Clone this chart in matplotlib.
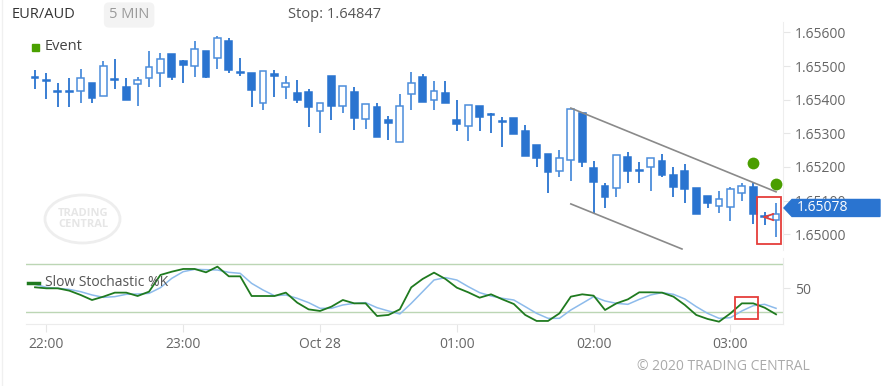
import numpy as np
import pandas as pd
import matplotlib
matplotlib.use("Agg")
import matplotlib.pyplot as plt
import matplotlib.transforms as mtransforms
from matplotlib.patches import Rectangle, Ellipse, Polygon

plt.rcParams['font.family'] = ['Open Sans', 'DejaVu Sans']

# EUR/AUD 5 min candles, 21:55 -> 03:20
opens = [1.65467, 1.65458, 1.65426, 1.65426, 1.65426, 1.65449, 1.65411, 1.65461, 1.65438, 1.65446,
         1.65464, 1.65479, 1.65536, 1.65515, 1.65500, 1.65544, 1.65524, 1.65574, 1.65482, 1.65479,
         1.65390, 1.65476, 1.65438, 1.65420, 1.65423, 1.65366, 1.65470, 1.65381, 1.65423, 1.65343,
         1.65378, 1.65340, 1.65274, 1.65417, 1.65467, 1.65399, 1.65420, 1.65340, 1.65322, 1.65381,
         1.65358, 1.65337, 1.65345, 1.65307, 1.65265, 1.65239, 1.65188, 1.65221, 1.65360, 1.65197,
         1.65144, 1.65138, 1.65230, 1.65191, 1.65200, 1.65218, 1.65176, 1.65188, 1.65138, 1.65114,
         1.65084, 1.65081, 1.65123, 1.65141, 1.65054, 1.65042]
highs = [1.65488, 1.65479, 1.65449, 1.65464, 1.65491, 1.65449, 1.65515, 1.65521, 1.65464, 1.65467,
         1.65544, 1.65538, 1.65536, 1.65517, 1.65574, 1.65546, 1.65589, 1.65583, 1.65524, 1.65479,
         1.65485, 1.65488, 1.65470, 1.65458, 1.65432, 1.65390, 1.65470, 1.65440, 1.65438, 1.65387,
         1.65390, 1.65351, 1.65417, 1.65482, 1.65476, 1.65455, 1.65455, 1.65399, 1.65384, 1.65381,
         1.65360, 1.65348, 1.65345, 1.65325, 1.65265, 1.65239, 1.65250, 1.65372, 1.65360, 1.65218,
         1.65152, 1.65236, 1.65244, 1.65215, 1.65227, 1.65239, 1.65200, 1.65209, 1.65138, 1.65114,
         1.65129, 1.65141, 1.65152, 1.65152, 1.65066, 1.65093]
lows = [1.65432, 1.65402, 1.65378, 1.65378, 1.65390, 1.65390, 1.65411, 1.65432, 1.65399, 1.65381,
        1.65438, 1.65438, 1.65458, 1.65449, 1.65467, 1.65465, 1.65491, 1.65479, 1.65470, 1.65378,
        1.65369, 1.65408, 1.65402, 1.65390, 1.65319, 1.65301, 1.65340, 1.65360, 1.65310, 1.65313,
        1.65289, 1.65280, 1.65274, 1.65369, 1.65393, 1.65369, 1.65390, 1.65307, 1.65277, 1.65307,
        1.65301, 1.65259, 1.65298, 1.65233, 1.65200, 1.65123, 1.65170, 1.65158, 1.65200, 1.65063,
        1.65078, 1.65111, 1.65152, 1.65152, 1.65129, 1.65170, 1.65111, 1.65093, 1.65060, 1.65078,
        1.65063, 1.65040, 1.65099, 1.65031, 1.65028, 1.64992]
closes = [1.65464, 1.65455, 1.65423, 1.65423, 1.65464, 1.65405, 1.65500, 1.65458, 1.65399, 1.65458,
          1.65497, 1.65521, 1.65467, 1.65503, 1.65550, 1.65467, 1.65583, 1.65488, 1.65479, 1.65429,
          1.65485, 1.65470, 1.65449, 1.65399, 1.65378, 1.65390, 1.65381, 1.65440, 1.65345, 1.65387,
          1.65289, 1.65331, 1.65381, 1.65449, 1.65393, 1.65426, 1.65390, 1.65328, 1.65384, 1.65348,
          1.65355, 1.65334, 1.65298, 1.65233, 1.65227, 1.65185, 1.65227, 1.65372, 1.65215, 1.65155,
          1.65111, 1.65236, 1.65188, 1.65188, 1.65227, 1.65176, 1.65141, 1.65135, 1.65060, 1.65093,
          1.65105, 1.65135, 1.65144, 1.65060, 1.65051, 1.65060]

stoch_k = [50.9, 49.6, 49.6, 46.7, 41.3, 35.0, 39.2, 44.2, 44.2, 40.0,
           45.4, 66.3, 70.4, 73.8, 73.8, 69.6, 76.7, 64.6, 64.6, 40.0,
           40.0, 40.0, 44.2, 31.7, 23.3, 21.3, 26.7, 35.0, 30.8, 30.8,
           15.0, 16.3, 23.3, 50.8, 61.3, 69.2, 61.3, 50.4, 44.6, 37.9,
           42.1, 35.8, 30.0, 16.3, 8.8, 8.8, 18.3, 39.2, 42.1, 40.4,
           22.5, 30.8, 35.8, 44.6, 44.6, 44.2, 39.2, 28.8, 16.3, 11.3,
           7.9, 18.3, 30.8, 30.8, 25.4, 17.1]
stoch_d = [54.6, 50.8, 49.6, 48.3, 45.4, 41.3, 38.3, 39.2, 42.1, 42.5,
           43.3, 50.4, 62.1, 70.4, 73.3, 72.9, 72.5, 69.6, 68.3, 55.8,
           47.5, 40.4, 41.3, 37.1, 31.7, 24.6, 24.6, 28.8, 30.8, 31.7,
           25.4, 21.3, 17.5, 30.8, 45.4, 60.0, 63.0, 60.0, 51.7, 44.2,
           40.0, 37.1, 35.0, 26.7, 18.3, 12.1, 12.1, 22.5, 30.8, 39.2,
           33.8, 30.8, 29.6, 35.8, 41.3, 44.2, 42.1, 36.3, 26.7, 18.3,
           12.1, 12.9, 21.3, 27.9, 29.6, 24.6]

price_ticks = [1.650, 1.651, 1.652, 1.653, 1.654, 1.655, 1.656]
event_x = [63, 65]
event_y = [1.65212, 1.65150]
channel_up = ([47, 65], [1.65375, 1.65126])
channel_low = ([47, 56.75], [1.65090, 1.64956])
last_price = 1.65078
stop_text = "Stop: 1.64847"

times = pd.date_range("2020-10-27 21:55", periods=len(opens), freq="5min")

W, H = 883, 386
fig = plt.figure(figsize=(W / 100, H / 100), dpi=100)


def px_axes(x0, y0, x1, y1):
    return fig.add_axes([x0 / W, 1 - y1 / H, (x1 - x0) / W, (y1 - y0) / H])


def fx(x):
    return x / W


def fy(y):
    return 1 - y / H


ax = px_axes(26, 22, 783, 250)
ax2 = px_axes(26, 258, 783, 324)

up_col = '#4c8ddb'
dn_col = '#2a74d0'
grey = '#666666'

# candles
for i in range(len(opens)):
    o, h, l, c = opens[i], highs[i], lows[i], closes[i]
    up = c > o
    col = up_col if up else dn_col
    ax.vlines(i, l, h, color=col, lw=1.3, zorder=2)
    bottom = min(o, c)
    height = max(abs(c - o), 0.00003)
    ax.add_patch(Rectangle((i - 0.3, bottom), 0.6, height,
                           facecolor='white' if up else col, edgecolor=col, lw=1.1, zorder=3))

ax.plot(*channel_up, color='#8a8a8a', lw=1.2, zorder=4)
ax.plot(*channel_low, color='#8a8a8a', lw=1.2, zorder=4)
ax.plot(event_x, event_y, 'o', color='#4a9e00', ms=8.5, mec='none', zorder=5)

# red highlight box and marker
ax.add_patch(Rectangle((63.33, 1.64971), 2.11, 0.0014, fill=False, ec='#e53e3a', lw=1.3, zorder=6))
ax.plot([64.74, 63.95, 64.74], [1.65060, 1.65051, 1.65042], color='#e53e3a', lw=1.3, zorder=6)

ax.set_xlim(-0.79, 65.61)
ax.set_ylim(1.64953, 1.65631)
ax.yaxis.tick_right()
ax.set_yticks(price_ticks)
ax.set_yticklabels([f"{v:.5f}" for v in price_ticks])
ax.tick_params(axis='y', colors='#e6e6e6', labelcolor=grey, labelsize=10, length=5, pad=3.5)
ax.set_xticks([])
for s in ['top', 'left', 'bottom']:
    ax.spines[s].set_visible(False)
ax.spines['right'].set_color('#eeeeee')

# current price label
tr = mtransforms.blended_transform_factory(fig.transFigure, ax.transData)
hh = 8.5 * (1.65631 - 1.64953) / 228
lab = Polygon([(fx(784), last_price), (fx(792), last_price + hh), (fx(880), last_price + hh),
               (fx(880), last_price - hh), (fx(792), last_price - hh)],
              closed=True, transform=tr, color='#2a74d0', clip_on=False, zorder=10)
fig.add_artist(lab)
fig.text(fx(797), 0, f"{last_price:.5f}", transform=tr, color='white', fontsize=10,
         va='center', ha='left', zorder=11).set_y(last_price)

# stochastic panel
ax2.axhline(80, color='#bcd6b4', lw=1)
ax2.axhline(20, color='#bcd6b4', lw=1)
xs = np.arange(len(stoch_k))
ax2.plot(xs, stoch_d, color='#8dbbeb', lw=1.1, zorder=3)
ax2.plot(xs, stoch_k, color='#1f7a1f', lw=1.3, zorder=4)
ax2.add_patch(Rectangle((61.4, 11.25), 2.02, 27.5, fill=False, ec='#e53e3a', lw=1.3, zorder=6))
ax2.set_xlim(-0.79, 65.61)
ax2.set_ylim(5, 87.5)
ax2.yaxis.tick_right()
ax2.set_yticks([50])
ax2.tick_params(axis='y', colors='#e6e6e6', labelcolor=grey, labelsize=10, length=5, pad=3.5)
tick_pos = [i for i, t in enumerate(times) if t.minute == 0]
tick_lab = ["Oct 28" if times[i].hour == 0 else times[i].strftime("%H:%M") for i in tick_pos]
ax2.set_xticks(tick_pos)
ax2.set_xticklabels(tick_lab)
ax2.tick_params(axis='x', colors='#e6e6e6', labelcolor=grey, labelsize=10, length=6, pad=3.5)
for s in ['top', 'left']:
    ax2.spines[s].set_visible(False)
ax2.spines['bottom'].set_color('#ececec')
ax2.spines['right'].set_color('#ececec')

fig.add_artist(plt.Line2D([fx(28), fx(39)], [fy(283), fy(283)], color='#1f7a1f', lw=2.5))
fig.text(fx(45), fy(283), "Slow Stochastic %K", color='#555555', fontsize=10, va='center', zorder=12)

# header
fig.text(fx(12), fy(15), "EUR/AUD", color='#333333', fontsize=10.5, va='center')
fig.text(fx(109), fy(15), "5 MIN", color='#9a9a9a', fontsize=10.5, va='center',
         bbox=dict(boxstyle='round,pad=0.35', fc='#f3f3f3', ec='none'))
fig.text(fx(288), fy(15), stop_text, color='#555555', fontsize=10.5, va='center')
fig.add_artist(Rectangle((fx(32), fy(51)), 7 / W, 7 / H, transform=fig.transFigure, color='#4aa000'))
fig.text(fx(45), fy(47), "Event", color='#444444', fontsize=10.5, va='center')

# watermark
fig.add_artist(Ellipse((fx(82.5), fy(219)), 75 / W, 48 / H, transform=fig.transFigure,
                       fill=False, ec='#eeeeee', lw=2))
fig.text(fx(83), fy(219), "TRADING\nCENTRAL", color='#e6e6e6', fontsize=8, fontweight='bold',
         ha='center', va='center', linespacing=0.9)

fig.add_artist(plt.Line2D([fx(1.5), fx(1.5)], [0, 1], color='#f0f0f0', lw=1))
fig.text(fx(637), fy(366), "\u00a9 2020 TRADING CENTRAL", color='#aaaaaa', fontsize=10, va='center')

fig.savefig("out.png", dpi=100)
